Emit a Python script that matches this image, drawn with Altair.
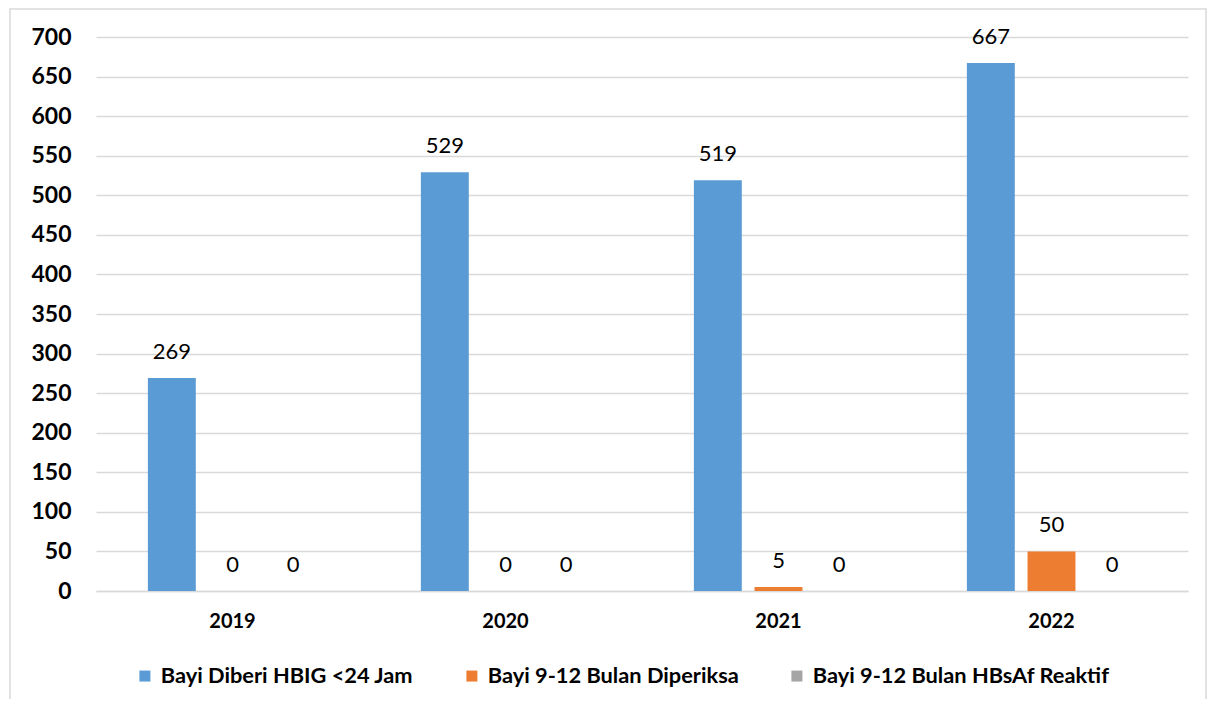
import altair as alt
import pandas as pd

years = ["2019", "2020", "2021", "2022"]
series = ["Bayi Diberi HBIG <24 Jam", "Bayi 9-12 Bulan Diperiksa", "Bayi 9-12 Bulan HBsAf Reaktif"]
hbig = [269, 529, 519, 667]
diperiksa = [0, 0, 5, 50]
reaktif = [0, 0, 0, 0]
colors = ["#5B9BD5", "#ED7D31", "#A5A5A5"]
y_ticks = list(range(0, 701, 50))

rows = []
for vals, s in zip([hbig, diperiksa, reaktif], series):
    for y, v in zip(years, vals):
        rows.append({"year": y, "series": s, "value": v})
df = pd.DataFrame(rows)

FONT = "Lato"

x_enc = alt.X("year:N", sort=years, title=None,
              scale=alt.Scale(paddingInner=0.38, paddingOuter=0.19),
              axis=alt.Axis(labelAngle=0, labelFontWeight="bold", labelFontSize=20,
                            labelColor="#000000", labelPadding=20, ticks=False,
                            domain=True, domainColor="#D9D9D9", domainWidth=1.5,
                            grid=False, labelFont=FONT))
xoff = alt.XOffset("series:N", sort=series,
                   scale=alt.Scale(paddingInner=0.21, paddingOuter=0))
y_enc = alt.Y("value:Q", title=None,
              scale=alt.Scale(domain=[0, 700], nice=False),
              axis=alt.Axis(values=y_ticks, labelFontWeight="bold", labelFontSize=23,
                            labelColor="#000000", labelPadding=25, ticks=False,
                            domain=False, gridColor="#D9D9D9", gridWidth=1.5,
                            labelFont=FONT))

base = alt.Chart(df)

bars = base.mark_bar().encode(
    x=x_enc, xOffset=xoff, y=y_enc,
    color=alt.Color("series:N", sort=series,
                    scale=alt.Scale(domain=series, range=colors),
                    legend=alt.Legend(title=None, orient="none", legendX=38, legendY=628,
                                      direction="horizontal", symbolType="square",
                                      symbolSize=121, symbolStrokeWidth=0,
                                      labelFontSize=21.8, labelFontWeight="bold",
                                      labelColor="#000000", labelFont=FONT,
                                      labelLimit=1000,
                                      columnPadding=47, labelOffset=5))
)

labels = base.mark_text(baseline="middle", dy=-26, fontSize=22, font=FONT,
                        color="#000000").encode(
    x=x_enc, xOffset=xoff, y=y_enc, text=alt.Text("value:Q")
)

frame = alt.Chart(pd.DataFrame({"d": [0]})).mark_rect(
    fill="transparent", stroke="#D9D9D9", strokeWidth=1.5
).encode(x=alt.value(-86), x2=alt.value(1110), y=alt.value(-28), y2=alt.value(720))

chart = alt.layer(frame, bars, labels).properties(
    width=1092, height=554,
    autosize=alt.AutoSizeParams(type="none"),
    padding={"left": 88, "top": 29, "right": 20, "bottom": 108},
).configure_view(stroke=None)

chart.save("out.html", embed_options={"renderer": "svg", "actions": False})
